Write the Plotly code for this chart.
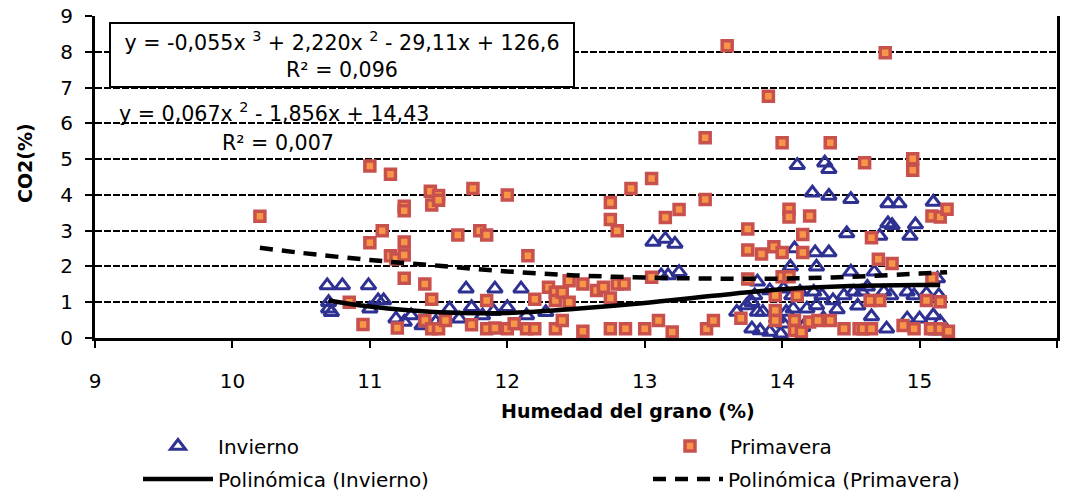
import plotly.graph_objects as go

# Grain moisture (%) vs CO2 (%) - winter samples
invierno_x = [10.69, 10.80, 10.99, 10.70, 10.70, 10.72, 11.00, 11.06, 11.10, 11.19,
              11.25, 11.30, 11.38, 11.48, 11.55, 11.58, 11.65, 11.74, 11.82, 11.90,
              11.70, 11.91, 12.10, 12.00, 12.14, 12.28, 13.06, 13.15, 13.22, 13.12,
              13.17, 13.25,
              13.67, 13.74, 13.78, 13.80, 13.82, 13.91, 14.01, 14.06, 14.07, 14.09,
              14.11, 14.13, 14.22, 14.23, 14.24, 14.25, 14.29, 14.31, 14.34, 14.34,
              14.34, 14.37, 14.45, 14.47, 14.50, 14.50, 14.52, 14.58, 14.62, 14.67,
              14.71, 14.74, 14.77, 14.77, 14.79, 14.80, 14.85, 14.91, 14.93, 14.96,
              14.97, 15.05, 15.10, 15.13, 15.14,
              13.78, 13.84, 13.91, 13.99, 14.01, 14.08, 14.18, 14.25, 13.86, 13.96,
              14.03, 14.76, 14.91, 15.00, 15.10, 15.15, 13.82, 14.40, 14.55, 14.65,
              15.12, 14.15, 14.30]
invierno_y = [1.47, 1.47, 1.47, 1.00, 0.82, 0.72, 0.82, 1.05, 1.05, 0.54,
              0.45, 0.63, 0.35, 0.45, 0.55, 0.82, 0.54, 0.86, 0.63, 0.75,
              1.38, 1.38, 1.38, 0.86, 0.63, 0.72, 2.68, 2.77, 2.63, 1.75,
              1.75, 1.84,
              0.73, 0.91, 1.00, 1.19, 1.57, 1.33, 1.38, 1.99, 1.19, 2.50,
              4.83, 1.29, 4.06, 1.29, 2.39, 1.99, 1.19, 4.90, 4.72, 3.97,
              2.39, 1.05, 1.19, 2.92, 3.88, 1.85, 1.29, 1.29, 1.43, 1.85,
              2.85, 1.29, 3.76, 3.20, 1.19, 3.15, 3.76, 1.29, 2.85, 1.19,
              3.17, 1.24, 3.80, 1.66, 1.19,
              0.26, 0.21, 0.17, 0.12, 0.40, 0.82, 0.82, 0.91, 0.73, 0.54,
              0.73, 0.26, 0.54, 0.54, 0.63, 0.45, 0.73, 0.80, 0.90, 0.60,
              0.20, 0.30, 0.55]

# Spring samples
primavera_x = [10.20, 10.85, 10.95, 11.00, 11.00, 11.09, 11.15, 11.15, 11.19, 11.20,
               11.25, 11.25, 11.25, 11.25, 11.25, 11.40, 11.40, 11.44, 11.45, 11.45,
               11.45, 11.50, 11.50, 11.50, 11.55, 11.64, 11.74, 11.75, 11.80, 11.85,
               11.85, 11.85, 11.91, 12.00, 12.00, 12.05, 12.14, 12.15, 12.20, 12.20,
               12.30, 12.35, 12.35, 12.35, 12.40, 12.40, 12.45, 12.45, 12.55, 12.55,
               12.65, 12.70, 12.75, 12.75, 12.75, 12.75, 12.80, 12.80, 12.85, 12.86,
               12.90, 13.00, 13.05, 13.05, 13.10, 13.15, 13.20, 13.25, 13.44, 13.44,
               13.45, 13.50, 13.60, 13.70, 13.75, 13.75, 13.75, 13.85, 13.90, 13.94,
               13.95, 13.95, 13.95, 14.00, 14.00, 14.00, 14.05, 14.05, 14.05, 14.09,
               14.09, 14.11, 14.14, 14.15, 14.15, 14.20, 14.20, 14.26, 14.35, 14.35,
               14.45, 14.56, 14.59, 14.60, 14.64, 14.65, 14.65, 14.70, 14.71, 14.75,
               14.80, 14.88, 14.95, 14.95, 14.96, 15.05, 15.08, 15.09, 15.09, 15.15,
               15.15, 15.15, 15.20, 15.21]
primavera_y = [3.40, 1.00, 0.38, 4.81, 2.66, 3.00, 4.58, 2.30, 2.21, 0.28,
               3.68, 3.56, 2.68, 2.32, 1.67, 1.51, 0.49, 4.10, 3.72, 1.08,
               0.26, 3.98, 3.85, 0.26, 0.49, 2.88, 0.37, 4.18, 3.00, 2.88,
               1.05, 0.26, 0.28, 4.00, 0.26, 0.40, 0.26, 2.30, 1.08, 0.26,
               1.42, 1.28, 1.05, 0.26, 1.28, 0.49, 1.60, 1.00, 1.51, 0.19,
               1.33, 1.42, 3.79, 3.31, 1.12, 0.26, 3.00, 1.51, 1.51, 0.26,
               4.18, 0.26, 4.46, 1.70, 0.49, 3.37, 0.17, 3.59, 5.60, 3.87,
               0.26, 0.49, 8.17, 0.55, 3.05, 2.46, 1.65, 2.35, 6.76, 2.55,
               1.19, 0.77, 0.49, 5.46, 2.39, 1.71, 3.60, 3.38, 1.71, 0.49,
               0.21, 1.19, 0.17, 2.89, 2.39, 3.41, 0.45, 0.49, 5.46, 0.49,
               0.26, 0.26, 0.26, 4.90, 1.05, 2.80, 0.26, 2.20, 1.05, 7.97,
               2.08, 0.35, 5.01, 4.69, 0.26, 1.05, 0.26, 3.41, 1.66, 3.38,
               1.01, 0.26, 3.60, 0.19]

# Polynomial trend lines (values along each fitted curve)
trend_inv_x = [10.70, 11.00, 11.50, 12.00, 12.50, 13.00, 13.50, 14.00, 14.50, 15.00, 15.15]
trend_inv_y = [1.05, 0.88, 0.72, 0.70, 0.82, 0.98, 1.18, 1.36, 1.45, 1.48, 1.48]
trend_pri_x = [10.20, 10.50, 11.00, 11.50, 12.00, 12.50, 13.00, 13.50, 14.00, 14.50, 15.00, 15.20]
trend_pri_y = [2.52, 2.38, 2.18, 2.02, 1.86, 1.75, 1.69, 1.66, 1.66, 1.71, 1.80, 1.84]

eq_invierno = "y = -0,055x <sup>3</sup> + 2,220x <sup>2</sup> - 29,11x + 126,6<br>R² = 0,096"
eq_primavera = "y = 0,067x <sup>2</sup> - 1,856x + 14,43"
r2_primavera = "R² = 0,007"

FONT = "DejaVu Sans"
W, H = 1069, 491
L, R, T, B = 95, 12, 16, 153
PW, PH = W - L - R, H - T - B


def px(x):
    return (x - L) / PW


def py(y):
    return (H - B - y) / PH


def cx(x):
    return x / W


def cy(y):
    return 1 - y / H


fig = go.Figure()

fig.add_trace(go.Scatter(
    x=invierno_x, y=invierno_y, mode="markers", name="Invierno",
    marker=dict(symbol="triangle-up-open", size=13, color="#2E3192",
                line=dict(width=3, color="#2E3192")),
    legend="legend"))
fig.add_trace(go.Scatter(
    x=primavera_x, y=primavera_y, mode="markers", name="Primavera",
    marker=dict(symbol="square", size=10, color="#F79646",
                line=dict(width=3.5, color="#C8504D")),
    legend="legend2"))
fig.add_trace(go.Scatter(
    x=trend_inv_x, y=trend_inv_y, mode="lines", name="Polinómica (Invierno)",
    line=dict(color="black", width=4.5, shape="spline"),
    legend="legend3"))
fig.add_trace(go.Scatter(
    x=trend_pri_x, y=trend_pri_y, mode="lines", name="Polinómica (Primavera)",
    line=dict(color="black", width=4.5, dash="13px,9px", shape="spline"),
    legend="legend4"))

axis_common = dict(
    showline=True, linecolor="black", linewidth=3,
    ticks="outside", tickcolor="black", tickwidth=2, ticklen=7,
    tickfont=dict(family=FONT, size=20, color="black"),
    zeroline=False, automargin=False,
)

fig.update_xaxes(range=[9, 16], dtick=1, tick0=9, showgrid=False,
                 ticklabelstandoff=16, **axis_common)
fig.update_yaxes(range=[0, 9], dtick=1, tick0=0, mirror=True,
                 showgrid=True, gridcolor="black", gridwidth=2, griddash="7px,2px",
                 ticklabelstandoff=8, **axis_common)

legend_common = dict(
    orientation="h", xanchor="left", yanchor="middle",
    xref="container", yref="container",
    font=dict(family=FONT, size=20, color="black"),
    bgcolor="rgba(0,0,0,0)", itemwidth=70,
    itemclick=False, itemdoubleclick=False,
)

EQ_FONT = dict(family=FONT, size=20.6, color="black")

fig.update_layout(
    width=W, height=H,
    margin=dict(l=L, r=R, t=T, b=B, autoexpand=False),
    paper_bgcolor="white", plot_bgcolor="white",
    font=dict(family=FONT, size=20, color="black"),
    showlegend=True,
    legend=dict(x=cx(138), y=cy(446), **legend_common),
    legend2=dict(x=cx(650), y=cy(446), **legend_common),
    legend3=dict(x=cx(138), y=cy(479), **legend_common),
    legend4=dict(x=cx(648), y=cy(479), **legend_common),
    annotations=[
        dict(text=eq_invierno, xref="paper", yref="paper",
             x=px(342), y=py(55), xanchor="center", yanchor="middle",
             showarrow=False, align="center", width=462, height=62,
             bgcolor="white", bordercolor="black", borderwidth=2, borderpad=0,
             font=EQ_FONT),
        dict(text=eq_primavera, xref="paper", yref="paper",
             x=px(117), y=py(113), xanchor="left", yanchor="middle",
             showarrow=False, font=EQ_FONT),
        dict(text=r2_primavera, xref="paper", yref="paper",
             x=px(220), y=py(143), xanchor="left", yanchor="middle",
             showarrow=False, font=EQ_FONT),
        dict(text="<b>Humedad del grano (%)</b>", xref="paper", yref="paper",
             x=px(628), y=py(411), xanchor="center", yanchor="middle",
             showarrow=False, font=dict(family=FONT, size=19, color="black")),
        dict(text="<b>CO2(%)</b>", xref="paper", yref="paper",
             x=px(25), y=py(163), xanchor="center", yanchor="middle",
             textangle=-90, showarrow=False,
             font=dict(family=FONT, size=19, color="black")),
    ],
)

fig.write_html("out.html")
